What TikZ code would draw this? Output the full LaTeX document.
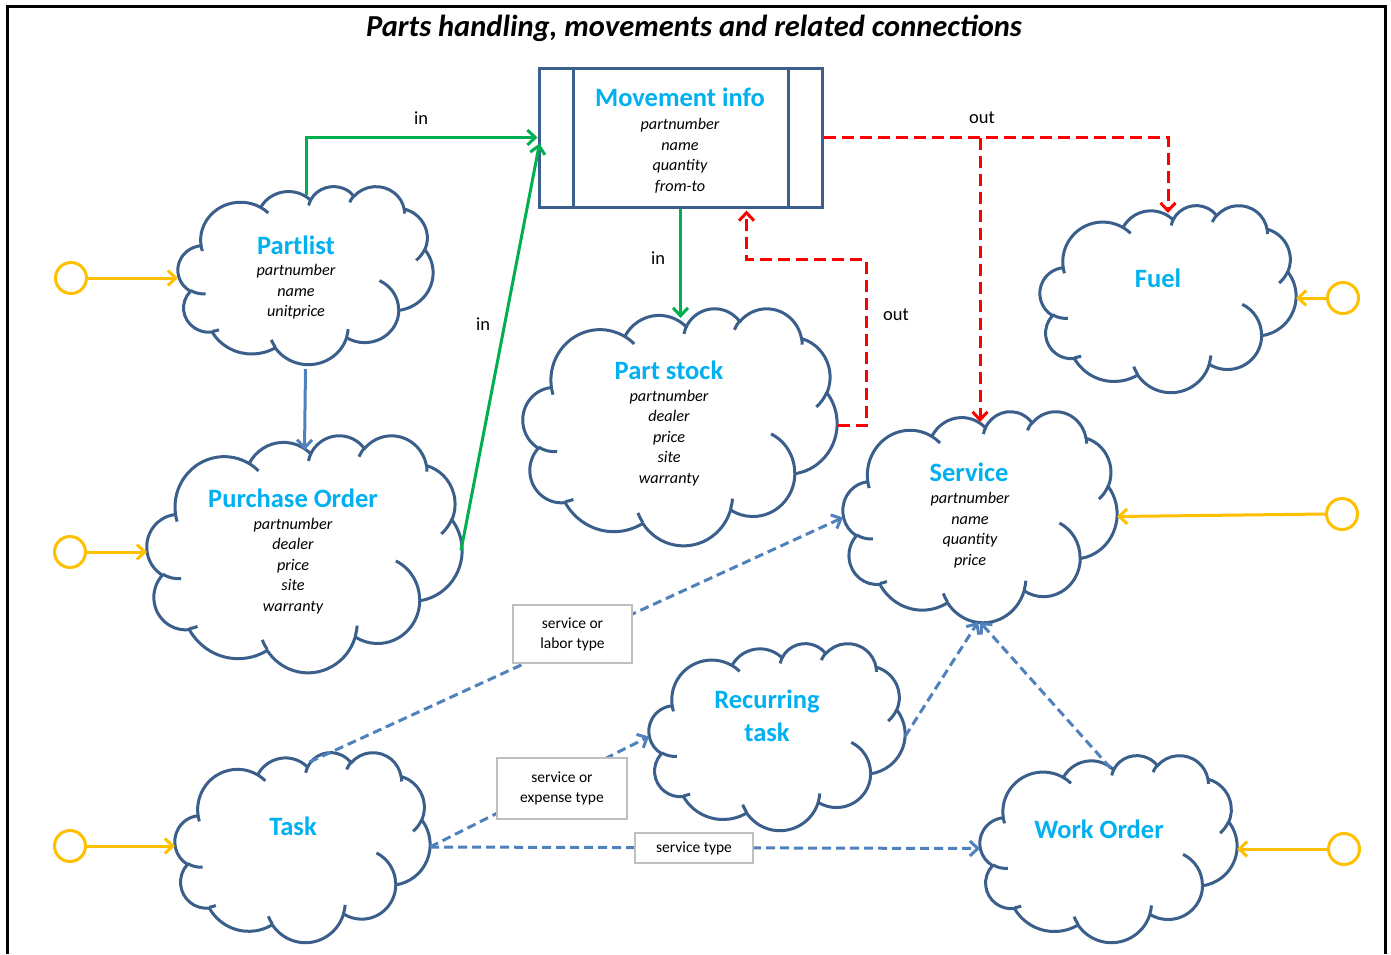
\documentclass[tikz,border=0pt]{standalone}
\usepackage{fontspec}
\setmainfont{Carlito}
\usetikzlibrary{arrows.meta,calc}
\definecolor{cloudblue}{HTML}{3A5F8B}
\definecolor{titlecyan}{HTML}{00B0F0}
\definecolor{arrgreen}{HTML}{00B050}
\definecolor{arrred}{HTML}{FF0000}
\definecolor{goldc}{HTML}{FFC000}
\definecolor{dashblue}{HTML}{4F81BD}
\definecolor{boxgray}{HTML}{BFBFBF}

\newcommand\carc[4]{arc[x radius=#1, y radius=#2, start angle={atan2(#1*sin(#3),#2*cos(#3))}, delta angle={mod(atan2(#1*sin(#3+#4),#2*cos(#3+#4))-atan2(#1*sin(#3),#2*cos(#3))+720,360)}]}
\newcommand\cloudouter{(3.900,14.370)
 \carc{6.753}{9.190}{-190.4875}{123.7805}
 \carc{5.333}{7.267}{-144.1024}{89.9452}
 \carc{4.365}{5.945}{-145.8079}{99.7230}
 \carc{4.857}{6.595}{-130.9861}{117.2417}
 \carc{5.333}{7.273}{-78.7089}{109.0269}
 \carc{6.775}{9.220}{-46.2673}{130.2690}
 \carc{5.785}{7.867}{0.6250}{114.0333}
 \carc{6.752}{9.215}{22.4516}{115.1726}
 \carc{7.720}{10.543}{66.2426}{75.7110}
 \carc{4.360}{5.918}{-274.9421}{146.7356}
 \carc{4.345}{5.945}{-246.8285}{152.5189} -- cycle}
\newcommand\cloudcreases{(4.693,26.177) \carc{4.345}{5.945}{86.7420}{26.4295}
 (6.928,34.899) \carc{4.360}{5.918}{73.6105}{11.4475}
 (16.478,39.090) \carc{6.752}{9.215}{137.6242}{14.0811}
 (28.827,34.751) \carc{6.752}{9.215}{6.4533}{15.9984}
 (34.129,22.954) \carc{5.785}{7.867}{-70.2924}{70.9174}
 (41.798,15.354) \carc{5.333}{7.273}{30.3180}{27.7515}
 (38.324,5.426) \carc{4.857}{6.595}{-13.7443}{14.8589}
 (29.078,3.952) \carc{4.857}{6.595}{-149.1815}{18.1954}
 (22.141,4.720) \carc{4.365}{5.945}{-163.4943}{17.6864}
 (14.000,5.192) \carc{6.753}{9.190}{-66.7070}{12.3194}
 (4.127,15.789) \carc{6.753}{9.190}{157.6544}{11.8582}}
\newcommand\drawcloud[5]{%
  \pgfmathsetmacro\cw{(#4-#2)/43.2}%
  \pgfmathsetmacro\ch{(#5-#3)/43.2}%
  \node[inner sep=0pt, outer sep=0pt, minimum width={(#4-#2)*1pt}, minimum height={(#5-#3)*1pt}] (#1) at ({(#2+#4)/2},{(#3+#5)/2}) {};
  \begin{scope}[shift={(#2,#3)}, x=\cw pt, y=-\ch pt]
    \filldraw[cloudline, fill=white] \cloudouter;
    \draw[cloudline] \cloudcreases;
  \end{scope}}

\tikzset{
  cloudline/.style={draw=cloudblue, line width=3pt, line join=round},
  ctitle/.style={text=titlecyan, font=\fontsize{26.5}{33}\selectfont\bfseries, inner sep=0pt, align=center},
  cattr/.style={font=\fontsize{16.2}{20.6}\selectfont\itshape, inner sep=0pt, align=center},
  conlabel/.style={font=\fontsize{18.5}{21}\selectfont, inner sep=0pt},
  tip/.style={-{Straight Barb[length=8pt,width=15pt,line width=3pt]}},
  greenarr/.style={draw=arrgreen, line width=3pt, tip},
  redarr/.style={draw=arrred, line width=3pt, dash pattern=on 12pt off 6pt, tip},
  bluearr/.style={draw=dashblue, line width=3pt, tip},
  bluedash/.style={draw=dashblue, line width=3pt, dash pattern=on 9pt off 5pt, tip},
  goldarr/.style={draw=goldc, line width=3pt, tip},
  goldcirc/.style={circle, draw=goldc, line width=3pt, minimum size=31pt, inner sep=0pt},
  lblbox/.style={draw=boxgray, line width=1.5pt, fill=white, font=\fontsize{15.5}{20}\selectfont, align=center, inner sep=0pt},
  movbox/.style={draw=cloudblue, line width=3pt, fill=white, minimum width=283pt, minimum height=139pt, inner sep=0pt}
}

\begin{document}
\begin{tikzpicture}[x=1pt,y=-1pt]
\useasboundingbox (0,0) rectangle (1391,954);
\fill[white] (0,0) rectangle (1391,954);
% frame
\draw[line width=3pt] (7,954) -- (7,6) -- (1385,6) -- (1385,954);
\node[font=\fontsize{30.5}{36}\selectfont\bfseries\itshape, inner sep=0pt] (title) at (694,28) {Parts handling, movements and related connections};

% clouds
\drawcloud{partlist}{178}{186}{433}{364}
\drawcloud{purchase}{147}{435}{462}{672}
\drawcloud{partstock}{523}{308}{837}{545}
\drawcloud{service}{843}{411}{1117}{622}
\drawcloud{fuel}{1040}{205}{1296}{392}
\drawcloud{recurring}{649}{643}{905}{830}
\drawcloud{task}{175}{752}{430}{942}
\drawcloud{workorder}{980}{755}{1237}{942}

% movement info box
\node[movbox] (movement) at (680.5,137.5) {};
\draw[cloudline] (movement.north west) ++(36,0) coordinate (mvl) -- (mvl |- movement.south);
\draw[cloudline] (movement.north east) ++(-35,0) coordinate (mvr) -- (mvr |- movement.south);

% titles and attributes
\node[ctitle] (t-mov) at (680,97) {Movement info};
\node[cattr] (a-mov) at (680,156) {partnumber\\name\\quantity\\from-to};
\node[ctitle] (t-pl) at (296,245) {Partlist};
\node[cattr] (a-pl) at (296,292) {partnumber\\name\\unitprice};
\node[ctitle] (t-po) at (293,498) {Purchase Order};
\node[cattr] (a-po) at (293,566) {partnumber\\dealer\\price\\site\\warranty};
\node[ctitle] (t-ps) at (669,370) {Part stock};
\node[cattr] (a-ps) at (669,438) {partnumber\\dealer\\price\\site\\warranty};
\node[ctitle] (t-sv) at (969,472) {Service};
\node[cattr] (a-sv) at (970,530) {partnumber\\name\\quantity\\price};
\node[ctitle] (t-fu) at (1158,278) {Fuel};
\node[ctitle] (t-rt) at (767,716) {Recurring\\task};
\node[ctitle] (t-tk) at (293,826) {Task};
\node[ctitle] (t-wo) at (1099,829) {Work Order};

% green connectors
\draw[greenarr] ($(partlist.north)+(0.5,9)$) |- (movement.west);
\draw[greenarr] ($(purchase.east)+(-1,-3)$) -- ($(movement.west)+(2,6)$);
\draw[greenarr] (movement.south) -- ($(partstock.north)+(0.5,10)$);
\node[conlabel] (l-in1) at (421,118) {in};
\node[conlabel] (l-in2) at (483,324) {in};
\node[conlabel] (l-in3) at (658,258) {in};

% red connectors
\draw[redarr] (movement.east) -| ($(fuel.north)+(0,8)$);
\draw[redarr] (movement.east -| service.north) -- ($(service.north)+(0,11)$);
\draw[redarr] ($(partstock.east)+(1,-1)$) -| ($(movement.south)+(185.5,51)$) -| ($(movement.south)+(66,2)$);
\node[conlabel] (l-out1) at (982,118) {out};
\node[conlabel] (l-out2) at (896,315) {out};

% partlist -> purchase order
\draw[bluearr] ($(partlist.south)+(0,5)$) -- ($(purchase.north)+(0,15)$);

% gold inputs
\node[goldcirc] (g1) at (71,278) {};
\node[goldcirc] (g2) at (70,552) {};
\node[goldcirc] (g3) at (70,846) {};
\node[goldcirc] (g4) at (1343,298) {};
\node[goldcirc] (g5) at (1342,514) {};
\node[goldcirc] (g6) at (1344,849) {};
\draw[goldarr] (g1.east) -- (g1.east -| partlist.west);
\draw[goldarr] (g2.east) -- (g2.east -| purchase.west);
\draw[goldarr] (g3.east) -- (g3.east -| task.west);
\draw[goldarr] (g4.west) -- (g4.west -| fuel.east);
\draw[goldarr] (g5.west) -- (service.east);
\draw[goldarr] (g6.west) -- (g6.west -| workorder.east);

% blue dashed
\draw[bluedash] ($(task.north)+(7,10)$) -- ($(service.west)+(0,1)$);
\draw[bluedash] (task.east) -- (recurring.west);
\draw[bluedash] (task.east) -- (workorder.west);
\draw[bluedash] (recurring.east) -- ($(service.south)+(-2,0)$);
\draw[bluedash] ($(workorder.north)+(2,13)$) -- (service.south);

% label boxes
\node[lblbox, minimum width=119pt, minimum height=58pt] (lb1) at (572.5,634) {service or\\labor type};
\node[lblbox, minimum width=130pt, minimum height=61pt] (lb2) at (562,788.5) {service or\\expense type};
\node[lblbox, minimum width=118pt, minimum height=30pt] (lb3) at (694,848) {service type};
\end{tikzpicture}
\end{document}
